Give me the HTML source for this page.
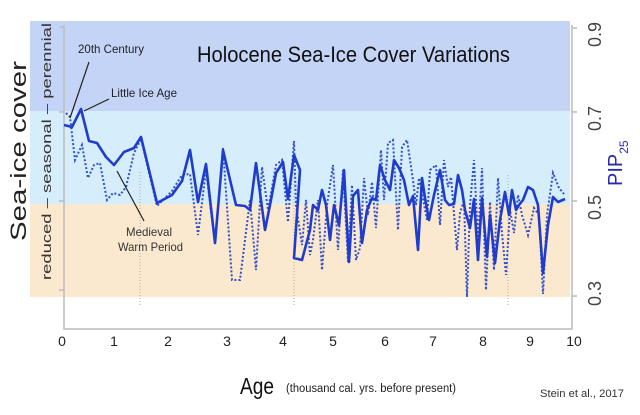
<!DOCTYPE html>
<html><head><meta charset="utf-8"><style>
html,body{margin:0;padding:0;background:#fff;}
svg{display:block;}
text{font-family:"Liberation Sans",sans-serif;}
</style></head><body>
<svg width="640" height="415" viewBox="0 0 640 415" xmlns="http://www.w3.org/2000/svg">
<rect x="30" y="21" width="540" height="90" fill="#c4d4f7"/>
<rect x="30" y="111" width="540" height="93" fill="#d6eefb"/>
<rect x="30" y="204" width="540" height="93" fill="#fbe9cf"/>
<g stroke="#aaa" stroke-width="1" stroke-dasharray="1,2" fill="none">
<line x1="140" y1="172" x2="140" y2="306"/>
<line x1="294" y1="172" x2="294" y2="306"/>
<line x1="508" y1="175" x2="508" y2="306"/>
</g>
<g stroke="#bbb" stroke-width="1.5" fill="none">
<polyline points="64,25 64,329 572,329 572,25"/>
<line x1="59" y1="27" x2="64" y2="27"/><line x1="59" y1="112" x2="64" y2="112"/><line x1="59" y1="201" x2="64" y2="201"/><line x1="59" y1="290" x2="64" y2="290"/>
<line x1="572" y1="28" x2="577" y2="28"/><line x1="572" y1="112" x2="577" y2="112"/><line x1="572" y1="201" x2="577" y2="201"/><line x1="572" y1="296" x2="577" y2="296"/>
</g>
<polyline fill="none" stroke="#3350c8" stroke-width="2" stroke-dasharray="2,2" points="66,113 70,117 75,160 82,145 88,178 94,165 100,163 107,200 113,193 120,195 126,187 134,153 141,139 157,206 172,191 182,175 190,174 198,235 206,170 215,244 223,148 232,280 240,280 250,200 256,270 262,167 268,210 276,165 282,160 288,222 294,141 296,205 302,245 306,200 310,255 313,240 318,200 322,270 327,205 333,165 338,250 343,170 348,262 352,185 356,260 360,248 364,178 368,215 372,182 376,228 381,150 384,200 388,143 393,140 398,230 402,147 407,140 413,180 416,205 419,178 427,220 430,170 436,165 440,225 444,160 448,187 451,177 457,250 460,213 464,200 467,297 470,205 474,160 478,240 482,168 486,290 490,202 494,270 498,178 502,233 506,275 510,210 514,233 518,195 522,215 528,235 534,208 539,215 543,294 547,215 553,173 559,188 564,194"/>
<polyline fill="none" stroke="#1f3ccc" stroke-width="2.6" stroke-linejoin="round" points="64,125 72,127 81,109 89,141 97,143 106,157 114,165 124,152 134,148 141,137 157,203 172,195 182,181 190,150 198,202 206,164 215,243 223,150 236,205 245,206 250,210 256,163 265,230 270,205 276,173 283,162 288,199 294,155 300,170 294,258 302,260 310,230 313,205 318,210 322,190 326,205 330,240 334,205 339,225 344,170 349,262 353,196 358,190 362,243 367,210 372,198 376,200 380,165 385,180 390,190 394,160 399,168 404,180 409,205 413,196 418,250 422,178 425,198 429,220 434,195 440,170 445,200 449,205 454,204 458,175 462,190 465,210 470,228 474,199 478,260 482,198 487,257 490,215 495,263 500,220 505,192 509,215 512,190 516,210 519,205 523,200 528,187 533,190 538,205 543,273 548,225 553,197 558,202 565,199"/>
<g stroke="#222" stroke-width="1.2" fill="none">
<line x1="70" y1="118" x2="89" y2="62"/>
<line x1="84" y1="111" x2="109" y2="99"/>
<line x1="117" y1="171" x2="144" y2="221"/>
</g>
<text x="78" y="53" font-size="12" fill="#222" textLength="66" lengthAdjust="spacingAndGlyphs">20th Century</text>
<text x="111" y="97" font-size="12" fill="#222" textLength="66" lengthAdjust="spacingAndGlyphs">Little Ice Age</text>
<text x="126" y="236" font-size="12" fill="#333" textLength="46" lengthAdjust="spacingAndGlyphs">Medieval</text>
<text x="118" y="251" font-size="12" fill="#333" textLength="65" lengthAdjust="spacingAndGlyphs">Warm Period</text>
<text x="197" y="62" font-size="22" fill="#111" textLength="313" lengthAdjust="spacingAndGlyphs">Holocene Sea-Ice Cover Variations</text>
<text transform="translate(26,241) rotate(-90)" font-size="22" fill="#222" textLength="180" lengthAdjust="spacingAndGlyphs">Sea-ice cover</text>
<text transform="translate(51,280) rotate(-90)" font-size="12.5" fill="#333" textLength="257" lengthAdjust="spacingAndGlyphs">reduced – seasonal – perennial</text>
<g font-size="18" fill="#444">
<text transform="translate(601,47) rotate(-90)">0.9</text>
<text transform="translate(601,131) rotate(-90)">0.7</text>
<text transform="translate(601,220) rotate(-90)">0.5</text>
<text transform="translate(601,306) rotate(-90)">0.3</text>
</g>
<text transform="translate(622,186) rotate(-90)" font-size="20" fill="#2a2ab0">PIP<tspan font-size="12" dy="6">25</tspan></text>
<g font-size="14" fill="#222" text-anchor="middle">
<text x="62" y="346">0</text><text x="114" y="346">1</text><text x="168" y="346">2</text><text x="227" y="346">3</text><text x="283" y="346">4</text><text x="333" y="346">5</text><text x="385" y="346">6</text><text x="433" y="346">7</text><text x="483" y="346">8</text><text x="530" y="346">9</text><text x="574" y="346">10</text>
</g>
<text x="240" y="394" font-size="23" fill="#111" textLength="34" lengthAdjust="spacingAndGlyphs">Age</text>
<text x="286" y="392" font-size="11.5" fill="#222" textLength="170" lengthAdjust="spacingAndGlyphs">(thousand cal. yrs. before present)</text>
<text x="540" y="397" font-size="11" fill="#333" textLength="84" lengthAdjust="spacingAndGlyphs">Stein et al., 2017</text>
</svg>
</body></html>
